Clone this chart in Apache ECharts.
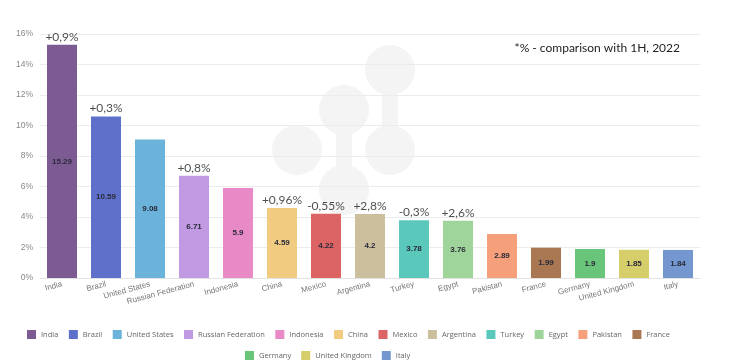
<!DOCTYPE html>
<html><head><meta charset="utf-8">
<script src="https://cdn.jsdelivr.net/npm/echarts@6/dist/echarts.min.js"></script>
<style>html,body{margin:0;padding:0;background:#fff}#c{width:731px;height:362px}</style>
</head><body><div id="c"></div>
<script>
var categories = ['India','Brazil','United States','Russian Federation','Indonesia','China','Mexico','Argentina','Turkey','Egypt','Pakistan','France','Germany','United Kingdom','Italy'];
var values = [15.29,10.59,9.08,6.71,5.9,4.59,4.22,4.2,3.78,3.76,2.89,1.99,1.9,1.85,1.84];
var notes = ['+0,9%','+0,3%','','+0,8%','','+0,96%','-0,55%','+2,8%','-0,3%','+2,6%','','','','',''];
var colors = ['#7c5b93','#5f70cb','#6cb3dc','#c19ae3','#e88ac6','#f1cc80','#dc6464','#cbbf9e','#5ac8ba','#9fd49b','#f5a07b','#a97853','#68c57a','#d6cd6b','#7597cf'];
var yTicks = [0,2,4,6,8,10,12,14,16];

var series = categories.map(function(name,i){
  var d = categories.map(function(_,j){ return j===i ? values[i] : '-'; });
  return {
    name:name, type:'bar', stack:'all', barWidth:30, data:d,
    itemStyle:{color:colors[i]},
    label:{show:true, position:'inside', fontSize:8, fontWeight:'bold', color:'#2a2a3a', fontFamily:'Liberation Sans',
      formatter:function(p){return p.value;}},
    emphasis:{disabled:true}
  };
});
series.push({
  name:'notes', type:'scatter', symbolSize:0, silent:true,
  data: categories.map(function(c,i){ return notes[i] ? [i, values[i], notes[i]] : null; }).filter(function(x){return x;}),
  label:{show:true, position:'top', distance:2, fontSize:12, color:'#222', fontFamily:'Lato',
    formatter:function(p){return p.value[2];}}
});

// faint background watermark logo
var wm = '#f4f4f4';
var circ = function(x,y){ return {type:'circle', zlevel:-1, silent:true, shape:{cx:x, cy:y, r:25}, style:{fill:wm}}; };
var neck = function(x1,y1,x2,y2){ return {type:'line', zlevel:-1, silent:true, shape:{x1:x1,y1:y1,x2:x2,y2:y2}, style:{stroke:wm, lineWidth:16}}; };

var legendText = {fontSize:7.5, color:'#666', fontFamily:'Open Sans'};
var chart = echarts.init(document.getElementById('c'));
chart.setOption({
  animation:false,
  grid:{left:40, right:31, top:34, bottom:84},
  graphic:[circ(390,70),circ(344,110),circ(297,150),circ(390,150),circ(344,190),
    neck(390,70,390,150), neck(344,110,344,190)],
  title:{text:'*% - comparison with 1H, 2022', right:46, top:37,
    textStyle:{fontSize:12, fontWeight:'normal', color:'#222', fontFamily:'Lato'}},
  legend:[{
    data:categories.slice(0,12), left:22, top:325, width:700, itemWidth:9, itemHeight:9, itemGap:10.5,
    icon:'rect', textStyle:legendText
  },{
    data:categories.slice(12), left:240, top:346, width:400, itemWidth:9, itemHeight:9, itemGap:10,
    icon:'rect', textStyle:legendText
  }],
  xAxis:{type:'category', data:categories,
    axisLine:{lineStyle:{color:'#e3e3e3'}}, axisTick:{show:false},
    axisLabel:{interval:0, rotate:15, fontSize:8, color:'#777', fontFamily:'Liberation Sans', margin:6}},
  yAxis:{type:'value', min:0, max:16, interval:2,
    axisLabel:{fontSize:8.5, color:'#888', fontFamily:'Liberation Sans', margin:7,
      formatter:function(v){return v+'%';}},
    splitLine:{lineStyle:{color:'#ececec'}}, axisLine:{show:false}, axisTick:{show:false}},
  series:series
});
</script></body></html>
